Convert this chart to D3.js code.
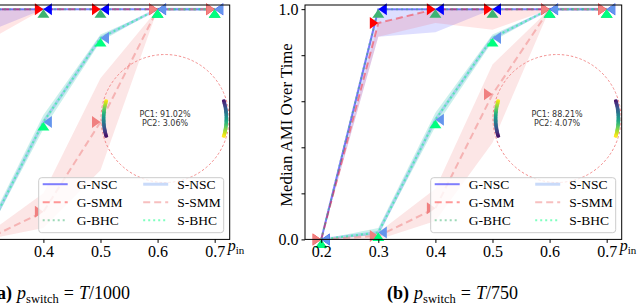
<!DOCTYPE html>
<html>
<head>
<meta charset="utf-8">
<script src="https://cdn.jsdelivr.net/npm/d3@7"></script>
<style>
  body { margin: 0; background: #fff; }
  svg { display: block; }
</style>
</head>
<body>
<script>
// p_in values on the x axis
var xs = [0.2, 0.3, 0.4, 0.5, 0.6, 0.7];
var methods = ["G-NSC", "G-SMM", "G-BHC", "S-NSC", "S-SMM", "S-BHC"];
var yTicks = [0, 0.2, 0.4, 0.6, 0.8, 1.0];

// (a) p_switch = T/1000 : median AMI, lower / upper band
var aGNSC   = [0.00, 1.00, 1.00, 1.00, 1.00, 1.00];
var aGNSClo = [0.00, 0.90, 1.00, 1.00, 1.00, 1.00];
var aGSMM   = [0.00, 1.00, 1.00, 1.00, 1.00, 1.00];
var aGSMMlo = [0.00, 0.86, 1.00, 1.00, 1.00, 1.00];
var aGBHC   = [0.00, 1.00, 1.00, 1.00, 1.00, 1.00];
var aSNSC   = [0.00, 0.02, 0.51, 0.875, 1.00, 1.00];
var aSNSClo = [0.00, 0.01, 0.48, 0.86, 1.00, 1.00];
var aSNSChi = [0.00, 0.04, 0.54, 0.89, 1.00, 1.00];
var aSSMM   = [0.00, 0.00, 0.12, 0.51, 1.00, 1.00];
var aSSMMlo = [0.00, 0.00, 0.05, 0.30, 1.00, 1.00];
var aSSMMhi = [0.00, 0.02, 0.20, 0.70, 1.00, 1.00];
var aSBHC   = [0.00, 0.02, 0.51, 0.875, 1.00, 1.00];

// (b) p_switch = T/750
var bGNSC   = [0.00, 1.00, 1.00, 1.00, 1.00, 1.00];
var bGNSClo = [0.00, 0.88, 0.90, 1.00, 1.00, 1.00];
var bGSMM   = [0.00, 0.94, 1.00, 1.00, 1.00, 1.00];
var bGSMMlo = [0.00, 0.88, 0.94, 0.91, 1.00, 1.00];
var bGBHC   = [0.00, 1.00, 1.00, 1.00, 1.00, 1.00];
var bSNSC   = [0.00, 0.03, 0.52, 0.875, 1.00, 1.00];
var bSNSClo = [0.00, 0.02, 0.49, 0.86, 1.00, 1.00];
var bSNSChi = [0.00, 0.05, 0.55, 0.89, 1.00, 1.00];
var bSSMM   = [0.00, 0.015, 0.135, 0.63, 1.00, 1.00];
var bSSMMlo = [0.00, 0.00, 0.08, 0.42, 1.00, 1.00];
var bSSMMhi = [0.00, 0.03, 0.22, 0.76, 1.00, 1.00];
var bSBHC   = [0.00, 0.03, 0.52, 0.875, 1.00, 1.00];

// PCA inset labels
var pcaLabels = [["PC1: 91.02%", "PC2: 3.06%"], ["PC1: 88.21%", "PC2: 4.07%"]];
var captions = [["(a)", "1000"], ["(b)", "750"]];

var panels = [
  { dx: -392, pca: pcaLabels[0], cap: captions[0], series: [
    { med: aGNSC, lo: aGNSClo, hi: aGNSC },
    { med: aGSMM, lo: aGSMMlo, hi: aGSMM },
    { med: aGBHC, lo: aGBHC,   hi: aGBHC },
    { med: aSNSC, lo: aSNSClo, hi: aSNSChi },
    { med: aSSMM, lo: aSSMMlo, hi: aSSMMhi },
    { med: aSBHC, lo: aSNSClo, hi: aSNSChi } ] },
  { dx: 0, pca: pcaLabels[1], cap: captions[1], series: [
    { med: bGNSC, lo: bGNSClo, hi: bGNSC },
    { med: bGSMM, lo: bGSMMlo, hi: bGSMM },
    { med: bGBHC, lo: bGBHC,   hi: bGBHC },
    { med: bSNSC, lo: bSNSClo, hi: bSNSChi },
    { med: bSSMM, lo: bSSMMlo, hi: bSSMMhi },
    { med: bSBHC, lo: bSNSClo, hi: bSNSChi } ] }
];

// look of each method
var styles = [
  { line: "#0000ff", lop: 0.5,  lw: 2,   dash: null,  mk: "#0000ff", shape: "left",  fill: "#0000ff", fop: 0.13 },
  { line: "#ff0000", lop: 0.4,  lw: 2,   dash: "7,4", mk: "#ff0000", shape: "right", fill: "#ff0000", fop: 0.1 },
  { line: "#3cb371", lop: 0.5,  lw: 2,   dash: "2,3", mk: "#3cb371", shape: "up",    fill: "#3cb371", fop: 0.0 },
  { line: "#6495ed", lop: 0.35, lw: 3,   dash: null,  mk: "#6495ed", shape: "left",  fill: "#6495ed", fop: 0.15 },
  { line: "#f08080", lop: 0.5,  lw: 2,   dash: "7,4", mk: "#f08080", shape: "right", fill: "#f08080", fop: 0.2 },
  { line: "#00ff7f", lop: 0.5,  lw: 2,   dash: "2,3", mk: "#00ff7f", shape: "up",    fill: "#00ff7f", fop: 0.12 }
];

var L = 8.5, B = 12;
var carets = {
  left:  "M0,0L" + L + "," + (-B/2) + "L" + L + "," + (B/2) + "Z",
  right: "M0,0L" + (-L) + "," + (-B/2) + "L" + (-L) + "," + (B/2) + "Z",
  up:    "M0,0L" + (-B/2) + "," + L + "L" + (B/2) + "," + L + "Z"
};

var serif = "'Liberation Serif', 'Times New Roman', serif";

var svg = d3.select("body").append("svg")
  .attr("width", 640)
  .attr("height", 305)
  .style("background-color", "white");

var y = d3.scaleLinear().domain([0, 1.018]).range([239.4, 5]);

panels.forEach(function(p, pi) {
  var x = d3.scaleLinear().domain([0.1716, 0.7263]).range([305 + p.dx, 621.7 + p.dx]);
  var g = svg.append("g");
  var x0 = x.range()[0], x1 = x.range()[1];

  svg.append("clipPath").attr("id", "clip" + pi)
    .append("rect").attr("x", x0).attr("y", y.range()[1]).attr("width", x1 - x0).attr("height", y.range()[0] - y.range()[1]);

  var plot = g.append("g").attr("clip-path", "url(#clip" + pi + ")");

  // bands
  p.series.forEach(function(s, i) {
    var st = styles[i];
    if (st.fop === 0) return;
    var area = d3.area()
      .x(function(d, j) { return x(xs[j]); })
      .y0(function(d, j) { return y(s.lo[j]); })
      .y1(function(d, j) { return y(s.hi[j]); });
    plot.append("path").datum(xs)
      .attr("d", area)
      .attr("fill", st.fill)
      .attr("fill-opacity", st.fop);
  });

  // lines + markers
  p.series.forEach(function(s, i) {
    var st = styles[i];
    var line = d3.line()
      .x(function(d, j) { return x(xs[j]); })
      .y(function(d) { return y(d); });
    plot.append("path").datum(s.med)
      .attr("d", line)
      .attr("fill", "none")
      .attr("stroke", st.line)
      .attr("stroke-opacity", st.lop)
      .attr("stroke-width", st.lw)
      .attr("stroke-dasharray", st.dash);
    g.selectAll(null).data(s.med).enter().append("path")
      .attr("d", carets[st.shape])
      .attr("transform", function(d, j) { return "translate(" + x(xs[j]) + "," + y(d) + ")"; })
      .attr("fill", st.mk);
  });

  // PCA inset
  var cx = x(0.613), cy = y(0.525), R = 64;
  var inset = g.append("g");
  inset.append("circle")
    .attr("cx", cx).attr("cy", cy).attr("r", R)
    .attr("fill", "none")
    .attr("stroke", "#f08080")
    .attr("stroke-width", 0.9)
    .attr("stroke-dasharray", "2.5,2");
  var n = 40;
  [-1, 1].forEach(function(side) {
    for (var k = 0; k <= n; k++) {
      var t = k / n;
      var th = (17 - 34 * t) * Math.PI / 180; // top to bottom
      var col = side < 0 ? d3.interpolateViridis(1 - t * 0.95) : d3.interpolateViridis(0.05 + t * 0.95);
      [60.8, 62].forEach(function(rr) {
        inset.append("circle")
          .attr("cx", cx + side * rr * Math.cos(th))
          .attr("cy", cy - rr * Math.sin(th))
          .attr("r", 1.2)
          .attr("fill", col);
      });
    }
  });
  inset.selectAll(null).data(p.pca).enter().append("text")
    .attr("x", cx)
    .attr("y", function(d, k) { return cy + k * 8.8 - 1.2; })
    .attr("text-anchor", "middle")
    .attr("font-family", "'DejaVu Sans', sans-serif")
    .attr("font-size", 8)
    .attr("fill", "#333")
    .text(function(d) { return d; });

  // axes box
  g.append("rect")
    .attr("x", x0).attr("y", y.range()[1])
    .attr("width", x1 - x0).attr("height", y.range()[0] - y.range()[1])
    .attr("fill", "none").attr("stroke", "#000").attr("stroke-width", 1);

  var xAxis = d3.axisBottom(x).tickValues(xs).tickSize(3.5).tickPadding(3)
    .tickFormat(d3.format(".1f"));
  var xa = g.append("g").attr("transform", "translate(0," + y.range()[0] + ")").call(xAxis);
  var yAxis = d3.axisLeft(y).tickValues(yTicks).tickSize(3.5).tickPadding(3)
    .tickFormat(function(d) { return (d === 0 || d === 1) ? d3.format(".1f")(d) : ""; });
  var ya = g.append("g").attr("transform", "translate(" + x0 + ",0)").call(yAxis);
  [xa, ya].forEach(function(a) {
    a.select(".domain").remove();
    a.selectAll("text").attr("font-family", serif).attr("font-size", 16).attr("fill", "#000");
  });

  // x label p_in
  var xl = g.append("text")
    .attr("x", x1 - 2).attr("y", 251)
    .attr("font-family", serif).attr("font-size", 16);
  xl.append("tspan").attr("font-style", "italic").text("p");
  xl.append("tspan").attr("font-size", 11).attr("dy", 3).text("in");

  g.append("text")
    .attr("transform", "translate(" + (x0 - 13) + "," + 125 + ") rotate(-90)")
    .attr("text-anchor", "middle")
    .attr("font-family", serif).attr("font-size", 16.8)
    .text("Median AMI Over Time");

  // legend
  var lx = x1 - 191, ly = 177.7;
  var lg = g.append("g");
  lg.append("rect")
    .attr("x", lx).attr("y", ly).attr("width", 185).attr("height", 55)
    .attr("rx", 3)
    .attr("fill", "white").attr("fill-opacity", 0.8)
    .attr("stroke", "#ccc").attr("stroke-width", 1);
  methods.forEach(function(m, i) {
    var col = Math.floor(i / 3), row = i % 3;
    var st = styles[i];
    var ex = lx + 4 + col * 100.5, ey = ly + 6.5 + row * 18;
    lg.append("line")
      .attr("x1", ex).attr("x2", ex + 25).attr("y1", ey).attr("y2", ey)
      .attr("stroke", st.line).attr("stroke-opacity", st.lop)
      .attr("stroke-width", st.lw).attr("stroke-dasharray", st.dash);
    lg.append("text")
      .attr("x", ex + 34).attr("y", ey + 4.5)
      .attr("font-family", serif).attr("font-size", 13.5)
      .text(m);
  });

  // caption
  var cap = svg.append("text")
    .attr("x", 452.5 + p.dx).attr("y", 299)
    .attr("text-anchor", "middle")
    .attr("font-family", serif).attr("font-size", 18);
  cap.append("tspan").attr("font-weight", "bold").text(p.cap[0]);
  cap.append("tspan").attr("font-style", "italic").attr("dx", 5).text("p");
  cap.append("tspan").attr("font-size", 12.5).attr("dy", 3.5).text("switch");
  cap.append("tspan").attr("dy", -3.5).attr("dx", 5).text("=");
  cap.append("tspan").attr("font-style", "italic").attr("dx", 5).text("T");
  cap.append("tspan").text("/" + p.cap[1]);
});
</script>
</body>
</html>
